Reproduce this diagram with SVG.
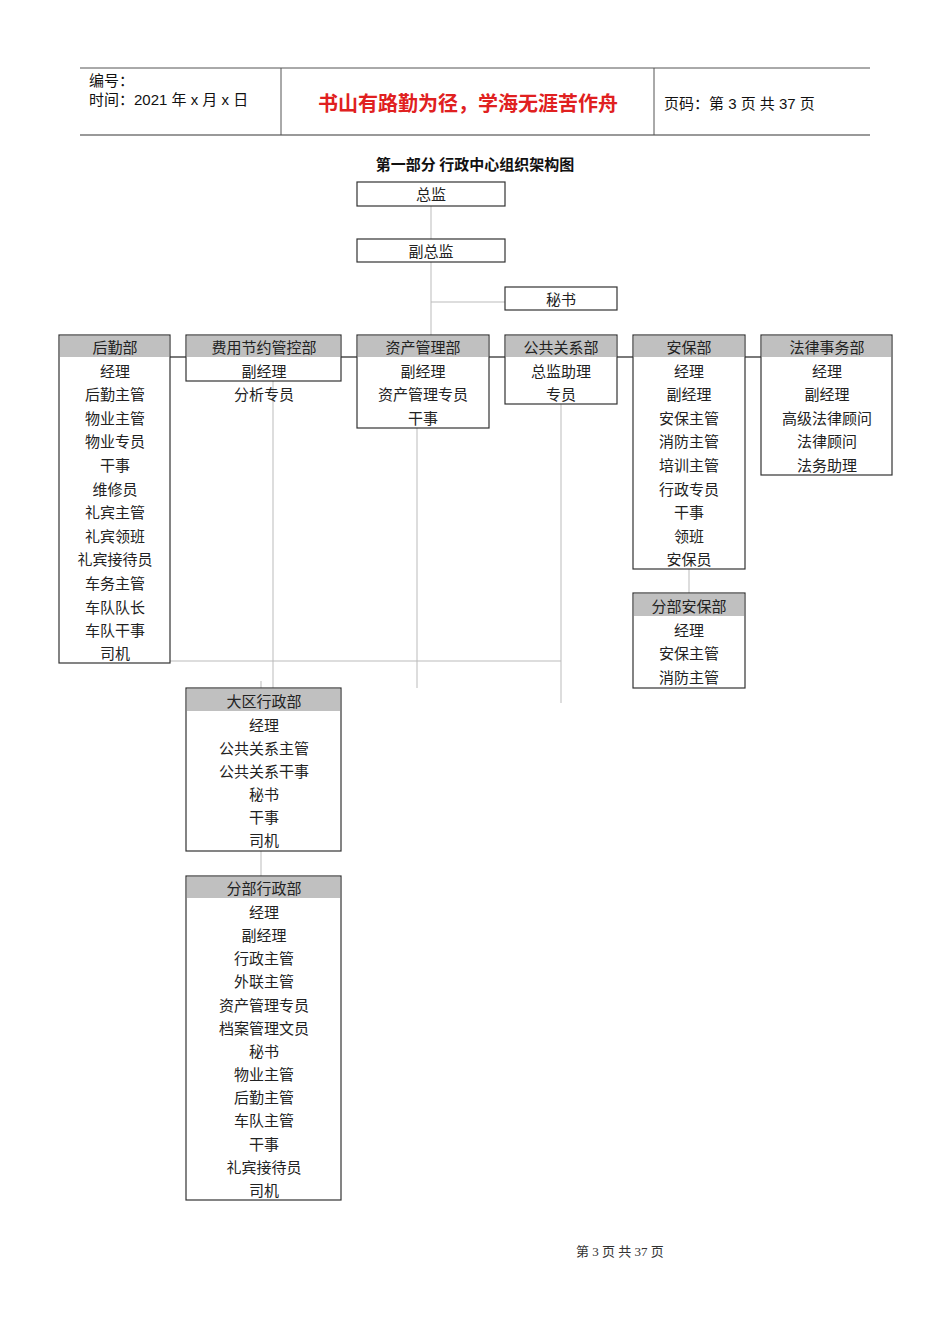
<svg xmlns="http://www.w3.org/2000/svg" width="950" height="1344" viewBox="0 0 950 1344">
<style>
.t{font-family:"Liberation Serif","Noto Sans CJK SC",serif;font-size:15px;fill:#222;text-anchor:middle}
.h{font-family:"Liberation Sans","Noto Sans CJK SC",sans-serif;font-size:15px;fill:#111}
.box{fill:#fff;stroke:#333;stroke-width:1.2}
.hd{fill:#c0c0c0}
.c{stroke:#bbb;stroke-width:1;fill:none}
.k{stroke:#222;stroke-width:1.2}
</style>
<rect width="950" height="1344" fill="#fff"/>
<g id="header">
<line x1="80" y1="68" x2="870" y2="68" stroke="#555"/>
<line x1="80" y1="135" x2="870" y2="135" stroke="#777" stroke-width="1.5"/>
<line x1="281" y1="68" x2="281" y2="135" stroke="#555"/>
<line x1="654" y1="68" x2="654" y2="135" stroke="#555"/>
<text class="h" x="89" y="86">编号：</text>
<text class="h" x="89" y="105">时间：2021 年 x 月 x 日</text>
<text x="468" y="111" font-family="Noto Sans CJK SC,sans-serif" font-size="20" font-weight="bold" fill="#e02020" text-anchor="middle">书山有路勤为径，学海无涯苦作舟</text>
<text class="h" x="664" y="109">页码：第 3 页  共 37 页</text>
<text x="475" y="170" font-family="Noto Sans CJK SC,sans-serif" font-size="15" font-weight="bold" fill="#111" text-anchor="middle">第一部分  行政中心组织架构图</text>
</g>
<g id="connectors">
<line class="c" x1="431" y1="206" x2="431" y2="239"/>
<line class="c" x1="431" y1="262" x2="431" y2="357"/>
<line class="c" x1="431" y1="302" x2="505" y2="302"/>
<line class="k" x1="170" y1="357" x2="186" y2="357"/>
<line class="k" x1="341" y1="357" x2="357" y2="357"/>
<line class="k" x1="489" y1="357" x2="505" y2="357"/>
<line class="k" x1="617" y1="357" x2="633" y2="357"/>
<line class="k" x1="745" y1="357" x2="761" y2="357"/>
<line class="c" x1="273" y1="381" x2="273" y2="688"/>
<line class="c" x1="417" y1="428" x2="417" y2="688"/>
<line class="c" x1="561" y1="404" x2="561" y2="703"/>
<line class="c" x1="170" y1="661" x2="561" y2="661"/>
<line class="c" x1="261" y1="681" x2="261" y2="688"/>
<line class="c" x1="689" y1="569" x2="689" y2="593"/>
<line class="c" x1="261" y1="851" x2="261" y2="876"/>
</g>
<g id="n-zongjian"><rect class="box" x="357" y="182" width="148" height="24"/><text class="t" x="431" y="200">总监</text></g>
<g id="n-fuzongjian"><rect class="box" x="357" y="239" width="148" height="23"/><text class="t" x="431" y="257">副总监</text></g>
<g id="n-mishu"><rect class="box" x="505" y="287" width="112" height="23"/><text class="t" x="561" y="305">秘书</text></g>
<g id="n-houqin"><rect class="box" x="59" y="335" width="111" height="328"/><rect class="hd" x="60" y="336" width="109" height="21"/>
<text class="t" x="115" y="353">后勤部</text><text class="t" x="115" y="377">经理</text><text class="t" x="115" y="400">后勤主管</text><text class="t" x="115" y="424">物业主管</text><text class="t" x="115" y="447">物业专员</text><text class="t" x="115" y="471">干事</text><text class="t" x="115" y="495">维修员</text><text class="t" x="115" y="518">礼宾主管</text><text class="t" x="115" y="542">礼宾领班</text><text class="t" x="115" y="565">礼宾接待员</text><text class="t" x="115" y="589">车务主管</text><text class="t" x="115" y="613">车队队长</text><text class="t" x="115" y="636">车队干事</text><text class="t" x="115" y="659">司机</text></g>
<g id="n-feiyong"><rect class="box" x="186" y="335" width="155" height="46"/><rect class="hd" x="187" y="336" width="153" height="21"/>
<text class="t" x="264" y="353">费用节约管控部</text><text class="t" x="264" y="377">副经理</text><text class="t" x="264" y="400">分析专员</text></g>
<g id="n-zichan"><rect class="box" x="357" y="335" width="132" height="93"/><rect class="hd" x="358" y="336" width="130" height="21"/>
<text class="t" x="423" y="353">资产管理部</text><text class="t" x="423" y="377">副经理</text><text class="t" x="423" y="400">资产管理专员</text><text class="t" x="423" y="424">干事</text></g>
<g id="n-gonggong"><rect class="box" x="505" y="335" width="112" height="69"/><rect class="hd" x="506" y="336" width="110" height="21"/>
<text class="t" x="561" y="353">公共关系部</text><text class="t" x="561" y="377">总监助理</text><text class="t" x="561" y="400">专员</text></g>
<g id="n-anbao"><rect class="box" x="633" y="335" width="112" height="234"/><rect class="hd" x="634" y="336" width="110" height="21"/>
<text class="t" x="689" y="353">安保部</text><text class="t" x="689" y="377">经理</text><text class="t" x="689" y="400">副经理</text><text class="t" x="689" y="424">安保主管</text><text class="t" x="689" y="447">消防主管</text><text class="t" x="689" y="471">培训主管</text><text class="t" x="689" y="495">行政专员</text><text class="t" x="689" y="518">干事</text><text class="t" x="689" y="542">领班</text><text class="t" x="689" y="565">安保员</text></g>
<g id="n-falv"><rect class="box" x="761" y="335" width="131" height="140"/><rect class="hd" x="762" y="336" width="129" height="21"/>
<text class="t" x="827" y="353">法律事务部</text><text class="t" x="827" y="377">经理</text><text class="t" x="827" y="400">副经理</text><text class="t" x="827" y="424">高级法律顾问</text><text class="t" x="827" y="447">法律顾问</text><text class="t" x="827" y="471">法务助理</text></g>
<g id="n-fenbuanbao"><rect class="box" x="633" y="593" width="112" height="95"/><rect class="hd" x="634" y="594" width="110" height="22"/>
<text class="t" x="689" y="612">分部安保部</text><text class="t" x="689" y="636">经理</text><text class="t" x="689" y="659">安保主管</text><text class="t" x="689" y="683">消防主管</text></g>
<g id="n-daqu"><rect class="box" x="186" y="688" width="155" height="163"/><rect class="hd" x="187" y="689" width="153" height="22"/>
<text class="t" x="264" y="707">大区行政部</text><text class="t" x="264" y="731">经理</text><text class="t" x="264" y="754">公共关系主管</text><text class="t" x="264" y="777">公共关系干事</text><text class="t" x="264" y="800">秘书</text><text class="t" x="264" y="823">干事</text><text class="t" x="264" y="846">司机</text></g>
<g id="n-fenbuxingzheng"><rect class="box" x="186" y="876" width="155" height="324"/><rect class="hd" x="187" y="877" width="153" height="21"/>
<text class="t" x="264" y="894">分部行政部</text><text class="t" x="264" y="918">经理</text><text class="t" x="264" y="941">副经理</text><text class="t" x="264" y="964">行政主管</text><text class="t" x="264" y="987">外联主管</text><text class="t" x="264" y="1011">资产管理专员</text><text class="t" x="264" y="1034">档案管理文员</text><text class="t" x="264" y="1057">秘书</text><text class="t" x="264" y="1080">物业主管</text><text class="t" x="264" y="1103">后勤主管</text><text class="t" x="264" y="1126">车队主管</text><text class="t" x="264" y="1150">干事</text><text class="t" x="264" y="1173">礼宾接待员</text><text class="t" x="264" y="1196">司机</text></g>
<text x="620" y="1256" font-family="Liberation Serif,Noto Sans CJK SC,serif" font-size="13" fill="#333" text-anchor="middle">第 3 页 共 37 页</text>
</svg>
